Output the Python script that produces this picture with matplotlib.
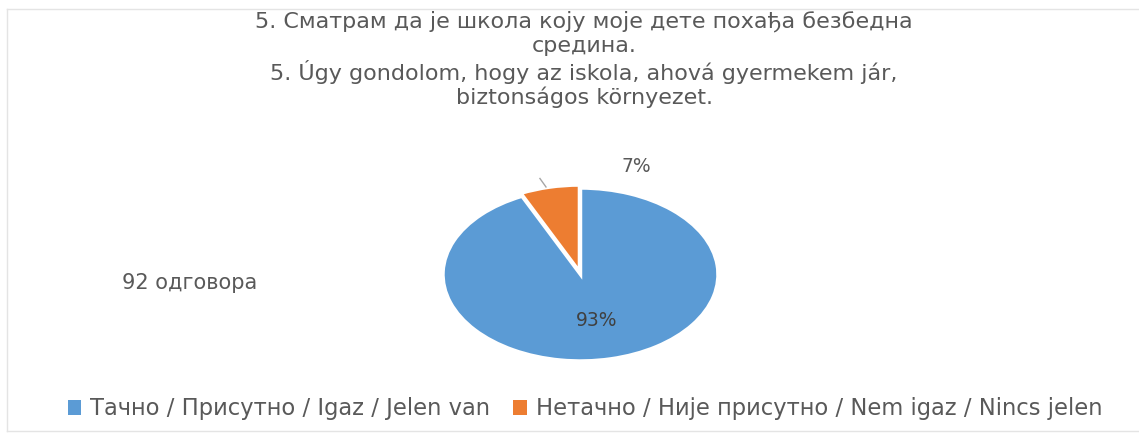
import matplotlib
matplotlib.use("Agg")
import matplotlib.pyplot as plt
from matplotlib.lines import Line2D
from matplotlib.patches import Rectangle

W, H = 1139, 434
labels = ["Тачно / Присутно / Igaz / Jelen van",
          "Нетачно / Није присутно / Nem igaz / Nincs jelen"]
values = [93, 7]
pct_labels = ["93%", "7%"]
colors = ["#5B9BD5", "#ED7D31"]
title_lines = ["5. Сматрам да је школа коју моје дете похађа безбедна",
               "средина.",
               "5. Úgy gondolom, hogy az iskola, ahová gyermekem jár,",
               "biztonságos környezet."]
note = "92 одговора"

fig = plt.figure(figsize=(W / 100, H / 100), dpi=100)
fig.patch.set_facecolor("white")

def fx(px):
    return px / W

def fy(py):
    return 1 - py / H

# faint frame
for (x0, y0, x1, y1) in [(7, 9, 1138, 9), (7, 9, 7, 431), (7, 431, 1138, 431)]:
    fig.add_artist(Line2D([fx(x0), fx(x1)], [fy(y0), fy(y1)], color="#e4e4e4", lw=1))

# title
tcolor = "#595959"
for i, line in enumerate(title_lines):
    fig.text(fx(584), fy(21 + 25.5 * i), line, ha="center", va="center",
             fontsize=16, color=tcolor, family="DejaVu Sans")

# pie axes: ellipse
cx, cy = 580.5, 274.5
rx, ry = 137.5, 86.5
aw, ah = 2.5 * rx, 2.5 * ry
ax = fig.add_axes([fx(cx - aw / 2), fy(cy + ah / 2), aw / W, ah / H])
wedges, _ = ax.pie(values, colors=colors, startangle=90, counterclock=False,
                   explode=[0, 0.035],
                   wedgeprops=dict(edgecolor="white", linewidth=2.5))
ax.set_aspect("auto")
ax.set_xlim(-1.25, 1.25)
ax.set_ylim(-1.25, 1.25)
ax.axis("off")

ax.text(0.118, -0.527, pct_labels[0], ha="center", va="center", fontsize=13.5,
        color="#404040", family="DejaVu Sans")
ax.text(0.404, 1.243, pct_labels[1], ha="center", va="center", fontsize=13.5,
        color="#595959", family="DejaVu Sans")
ax.plot([-0.295, -0.251], [1.110, 1.012], color="#a6a6a6", lw=1, clip_on=False)

fig.text(fx(122), fy(283), note, ha="left", va="center", fontsize=15,
         color=tcolor, family="DejaVu Sans")

# legend
handles = [Rectangle((0, 0), 1, 1, facecolor=c, edgecolor="none") for c in colors]
fig.legend(handles, labels, loc="center", bbox_to_anchor=(fx(585), fy(409)),
           ncol=2, frameon=False, labelcolor=tcolor,
           handlelength=0.6, handleheight=0.6, handletextpad=0.4,
           columnspacing=1.0, prop={"family": "DejaVu Sans", "size": 16.3})

fig.savefig("out.png", dpi=100, facecolor="white")
